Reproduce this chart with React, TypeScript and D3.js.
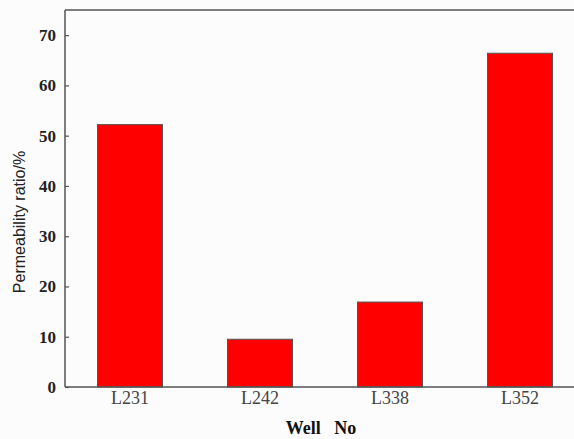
import React, { useEffect, useRef } from "react";
import * as d3 from "d3";

const wells = ["L231", "L242", "L338", "L352"];
const ratios = [52.2, 9.5, 16.9, 66.4];
const yTicks = [0, 10, 20, 30, 40, 50, 60, 70];

const App = () => {
  const ref = useRef<SVGSVGElement>(null);

  useEffect(() => {
    const width = 574;
    const height = 439;
    const margin = { top: 10, left: 65, bottom: 52 };
    const plotRight = 585;

    const svg = d3.select(ref.current);
    svg.selectAll("*").remove();

    svg.append("rect").attr("width", width).attr("height", height).attr("fill", "#fcfcfc");

    const x = d3
      .scaleBand()
      .domain(wells)
      .range([margin.left, plotRight])
      .paddingInner(0.5)
      .paddingOuter(0.25);

    const y = d3
      .scaleLinear()
      .domain([0, 75])
      .range([height - margin.bottom, margin.top]);

    svg
      .selectAll(".bar")
      .data(wells)
      .enter()
      .append("rect")
      .attr("class", "bar")
      .attr("x", (d) => x(d)!)
      .attr("y", (d, i) => y(ratios[i]))
      .attr("width", x.bandwidth())
      .attr("height", (d, i) => y(0) - y(ratios[i]))
      .attr("fill", "#ff0000")
      .attr("stroke", "#555")
      .attr("stroke-width", 1);

    // frame
    const frame = svg.append("g").attr("stroke", "#555").attr("stroke-width", 1.5).attr("fill", "none");
    frame.append("line").attr("x1", margin.left).attr("x2", margin.left).attr("y1", y(0)).attr("y2", margin.top);
    frame.append("line").attr("x1", margin.left).attr("x2", plotRight).attr("y1", margin.top).attr("y2", margin.top);
    frame.append("line").attr("x1", margin.left).attr("x2", plotRight).attr("y1", y(0)).attr("y2", y(0));

    const yAxis = svg
      .append("g")
      .attr("transform", `translate(${margin.left},0)`)
      .call(d3.axisLeft(y).tickValues(yTicks).tickSizeInner(-4).tickSizeOuter(0).tickPadding(9));
    yAxis.select(".domain").remove();
    yAxis.selectAll("line").attr("stroke", "#555").attr("stroke-width", 1.2);
    yAxis
      .selectAll("text")
      .attr("font-family", "'Liberation Serif', 'Times New Roman', serif")
      .attr("font-weight", "bold")
      .attr("font-size", 17)
      .attr("fill", "#222");

    const xAxis = svg
      .append("g")
      .attr("transform", `translate(0,${y(0)})`)
      .call(d3.axisBottom(x).tickSize(0).tickPadding(4));
    xAxis.select(".domain").remove();
    xAxis
      .selectAll("text")
      .attr("font-family", "'Liberation Serif', 'Times New Roman', serif")
      .attr("font-size", 18)
      .attr("fill", "#444");

    svg
      .append("text")
      .attr("x", 321)
      .attr("y", 434)
      .attr("text-anchor", "middle")
      .attr("font-family", "'Liberation Serif', 'Times New Roman', serif")
      .attr("font-weight", "bold")
      .attr("font-size", 18)
      .attr("fill", "#111")
      .attr("xml:space", "preserve")
      .text("Well   No");

    svg
      .append("text")
      .attr("transform", "translate(25,222) rotate(-90)")
      .attr("text-anchor", "middle")
      .attr("font-family", "'Liberation Sans', Arial, sans-serif")
      .attr("font-size", 16)
      .attr("fill", "#222")
      .text("Permeability ratio/%");
  }, []);

  return (
    <svg
      ref={ref}
      width={574}
      height={439}
      style={{ position: "absolute", left: 0, top: 0 }}
    ></svg>
  );
};

export default App;
